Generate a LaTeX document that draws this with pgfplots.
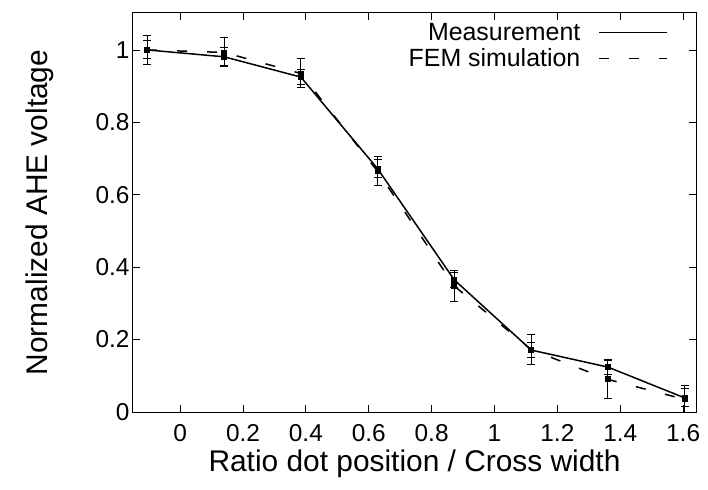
\documentclass[border=0pt]{standalone}
\usepackage{fontspec}
\setmainfont{Liberation Sans}
\usepackage{pgfplots}
\pgfplotsset{compat=1.18}

\begin{document}
\begin{tikzpicture}
\begin{axis}[
    scale only axis,
    width=563bp, height=399bp,
    xmin=-0.15, xmax=1.641,
    ymin=0, ymax=1.102,
    xtick={0,0.2,0.4,0.6,0.8,1,1.2,1.4,1.6},
    ytick={0,0.2,0.4,0.6,0.8,1},
    tick align=inside,
    major tick length=7bp,
    every tick/.style={black, line width=0.8bp},
    axis line style={line width=1bp},
    /pgf/number format/assume math mode=true,
    tick label style={font=\fontsize{24.5}{29}\selectfont},
    xticklabel shift=9bp,
    label style={font=\fontsize{30}{35}\selectfont},
    xlabel={Ratio dot position / Cross width},
    ylabel={Normalized AHE voltage},
    xlabel shift=1bp,
    ylabel shift=35bp,
    legend plot pos=right,
    legend cell align=right,
    legend style={at={(rel axis cs:1,1)}, anchor=north east, draw=none, fill=none,
        xshift=-28bp, yshift=-8bp,
        font=\fontsize{25}{28}\selectfont, inner sep=0bp, row sep=3bp},
    legend image code/.code={\path (0bp,0bp); \draw[#1] (16bp,0bp) -- (84bp,0bp);},
]
\addplot+[black, solid, line width=1.5bp, mark=square*, mark size=2.2bp,
    mark options={solid, black},
    error bars/.cd, y dir=both, y explicit,
    error bar style={line width=1bp, solid},
    error mark options={rotate=90, mark size=4bp, line width=1bp}]
    table[x=x, y=y, y error=e] {
x      y      e
-0.105 1.000  0.025
0.140  0.981  0.025
0.384  0.925  0.020
0.628  0.672  0.025
0.872  0.365  0.020
1.117  0.171  0.020
1.361  0.124  0.020
1.605  0.039  0.025
};
\addlegendentry{Measurement}
\addplot+[black, line width=1.5bp, dash pattern=on 10bp off 20bp, mark=square*, mark size=2.2bp,
    mark options={solid, black},
    error bars/.cd, y dir=both, y explicit,
    error bar style={line width=1bp, solid},
    error mark options={rotate=90, mark size=4bp, line width=1bp}]
    table[x=x, y=y, y error=e] {
x      y      e
-0.105 1.000  0.041
0.140  0.993  0.040
0.384  0.935  0.040
0.628  0.665  0.040
0.872  0.348  0.044
1.117  0.172  0.041
1.361  0.090  0.052
1.605  0.035  0.037
};
\addlegendentry{FEM simulation}
\end{axis}
\path (current axis.north east) ++(12bp,13bp);
\path (current axis.south west) ++(-133bp,-78bp);
\end{tikzpicture}
\end{document}
